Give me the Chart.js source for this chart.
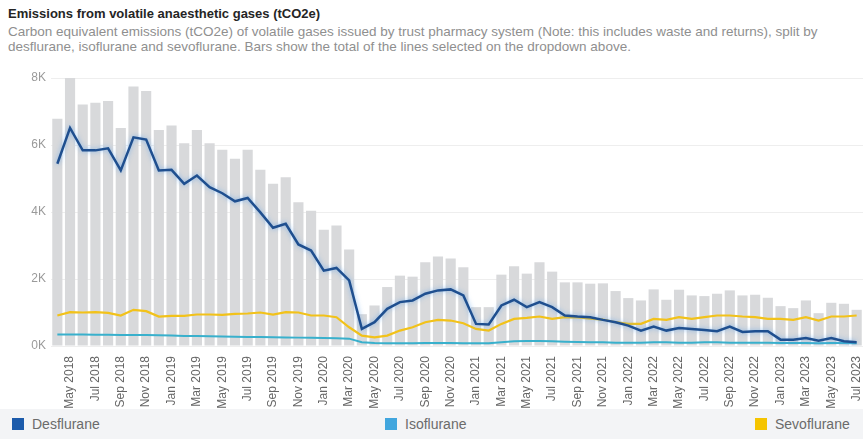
<!DOCTYPE html>
<html>
<head>
<meta charset="utf-8">
<script src="https://cdn.jsdelivr.net/npm/chart.js@4.4.1/dist/chart.umd.min.js"></script>
<style>
  body { margin: 0; background: #fff; font-family: "Liberation Sans", Arial, sans-serif; }
  #wrap { position: relative; width: 863px; height: 439px; overflow: hidden; }
  #title { position: absolute; left: 8px; top: 6px; font-size: 13px; font-weight: bold; color: #252525; }
  #subtitle { position: absolute; left: 8px; top: 24px; font-size: 13.5px; line-height: 15px; color: #8f8f8f; }
  #chart-box { position: absolute; left: 0; top: 60px; width: 863px; height: 350px; }
  #legend { position: absolute; left: 0; top: 409px; width: 863px; height: 30px; background: #f3f4f6; }
  .item { position: absolute; top: 7px; font-size: 14px; color: #6b6b6b; line-height: 16px; }
  .item span { display: inline-block; width: 12px; height: 12px; margin-right: 8px; vertical-align: -1px; }
</style>
</head>
<body>
<div id="wrap">
  <div id="title">Emissions from volatile anaesthetic gases (tCO2e)</div>
  <div id="subtitle">Carbon equivalent emissions (tCO2e) of volatile gases issued by trust pharmacy system (Note: this includes waste and returns), split by<br>desflurane, isoflurane and sevoflurane. Bars show the total of the lines selected on the dropdown above.</div>
  <div id="chart-box"><canvas id="main-chart" width="863" height="350"></canvas></div>
  <div id="legend">
    <div class="item" style="left:12px"><span style="background:#1c5bab"></span>Desflurane</div>
    <div class="item" style="left:385px"><span style="background:#41a6de"></span>Isoflurane</div>
    <div class="item" style="left:755px"><span style="background:#f5c400"></span>Sevoflurane</div>
  </div>
</div>
<script>
const months = [];
const monthNames = ["Jan", "Feb", "Mar", "Apr", "May", "Jun", "Jul", "Aug", "Sep", "Oct", "Nov", "Dec"];
for (let y = 2018; y <= 2023; y++) {
  monthNames.forEach((m, i) => {
    if (y === 2018 && i < 3) return;
    if (y === 2023 && i > 6) return;
    months.push(m + " " + y);
  });
}

// total of the three lines (bars)
const totals = [
  6780, 8000, 7210, 7260, 7310, 6510, 7750, 7610, 6450,
  6580, 6050, 6450, 6050, 5860, 5590, 5860, 5260, 4840, 5040, 4290, 4040,
  3470, 3600, 2880, 950, 1210, 1760, 2100, 2070, 2500, 2670, 2610, 2350,
  1160, 1160, 2130, 2380, 2160, 2500, 2220, 1900, 1900, 1860, 1870, 1640,
  1430, 1360, 1690, 1380, 1680, 1510, 1490, 1560, 1660, 1510, 1530, 1440,
  1190, 1130, 1360, 980, 1290, 1260, 1080
];

const desflurane = [
  5440, 6510, 5840, 5840, 5900, 5240, 6230, 6160, 5240,
  5260, 4840, 5090, 4740, 4560, 4320, 4420, 3990, 3530, 3650, 3030, 2850,
  2250, 2330, 1960, 510, 710, 1110, 1310, 1360, 1560, 1660, 1690, 1510,
  660, 640, 1210, 1380, 1160, 1310, 1160, 910, 880, 860, 780, 710,
  610, 460, 580, 460, 540, 510, 480, 440, 580, 420, 440, 440,
  190, 190, 240, 160, 240, 140, 110
];

const isoflurane = [
  340, 345, 340, 335, 335, 330, 330, 325, 320,
  310, 300, 300, 290, 280, 275, 270, 265, 260, 255, 250, 245,
  240, 235, 220, 110, 90, 80, 80, 85, 90, 90, 90, 85,
  80, 85, 110, 140, 150, 150, 140, 130, 120, 110, 110, 100,
  100, 100, 110, 110, 100, 100, 110, 110, 100, 100, 100, 100,
  90, 90, 90, 80, 90, 90, 80
];

const sevoflurane = [
  910, 1010, 1000, 1010, 990, 910, 1080, 1040, 880,
  900, 900, 940, 940, 930, 960, 970, 1000, 940, 1010, 1000, 910,
  910, 860, 560, 310, 260, 310, 460, 560, 710, 780, 760, 680,
  510, 460, 660, 810, 840, 880, 810, 860, 850, 820, 790, 710,
  660, 660, 810, 780, 860, 810, 860, 910, 910, 880, 860, 810,
  810, 780, 860, 760, 880, 880, 910
];

const yTicks = [0, 2000, 4000, 6000, 8000];

// soft glow under the desflurane line
const glowPlugin = {
  id: "glow",
  beforeDatasetDraw(chart, args) {
    if (args.index !== 1) return;
    const ctx = chart.ctx;
    ctx.save();
    ctx.shadowColor = "rgba(90, 160, 235, 0.7)";
    ctx.shadowBlur = 5;
  },
  afterDatasetDraw(chart, args) {
    if (args.index !== 1) return;
    chart.ctx.restore();
  }
};

const ctx = document.getElementById("main-chart").getContext("2d");
new Chart(ctx, {
  type: "bar",
  data: {
    labels: months,
    datasets: [
      {
        type: "bar",
        label: "Total",
        data: totals,
        backgroundColor: "#d8d9db",
        barPercentage: 0.8,
        categoryPercentage: 1,
        order: 10
      },
      {
        type: "line",
        label: "Desflurane",
        data: desflurane,
        borderColor: "#1f4f8f",
        borderWidth: 2.5,
        pointRadius: 0,
        tension: 0,
        order: 1
      },
      {
        type: "line",
        label: "Isoflurane",
        data: isoflurane,
        borderColor: "#39b0cc",
        borderWidth: 2,
        pointRadius: 0,
        tension: 0,
        order: 3
      },
      {
        type: "line",
        label: "Sevoflurane",
        data: sevoflurane,
        borderColor: "#f2c21a",
        borderWidth: 2.2,
        pointRadius: 0,
        tension: 0,
        order: 2
      }
    ]
  },
  options: {
    responsive: false,
    animation: false,
    layout: { padding: { top: 18, right: 0, left: 0, bottom: 0 } },
    plugins: {
      legend: { display: false },
      tooltip: { enabled: false }
    },
    scales: {
      x: {
        grid: { display: false },
        border: { display: false },
        afterFit: s => { s.height = 64; s.paddingRight = 0; s.paddingLeft = 0; },
        ticks: {
          autoSkip: false,
          maxRotation: 90,
          minRotation: 90,
          padding: 2,
          color: "#666",
          font: { family: "Liberation Sans", size: 12 },
          callback: (v, i) => (i % 2 === 1 ? months[i] : "")
        }
      },
      y: {
        min: 0,
        max: 8000,
        afterFit: s => { s.width = 51; },
        afterBuildTicks: s => { s.ticks = yTicks.map(v => ({ value: v })); },
        border: { display: false },
        grid: { color: "#eeeeee", drawTicks: false },
        ticks: {
          padding: 5,
          color: "#9a9a9a",
          font: { family: "Liberation Sans", size: 12 },
          callback: v => v / 1000 + "K"
        }
      }
    }
  },
  plugins: [glowPlugin]
});
</script>
</body>
</html>
